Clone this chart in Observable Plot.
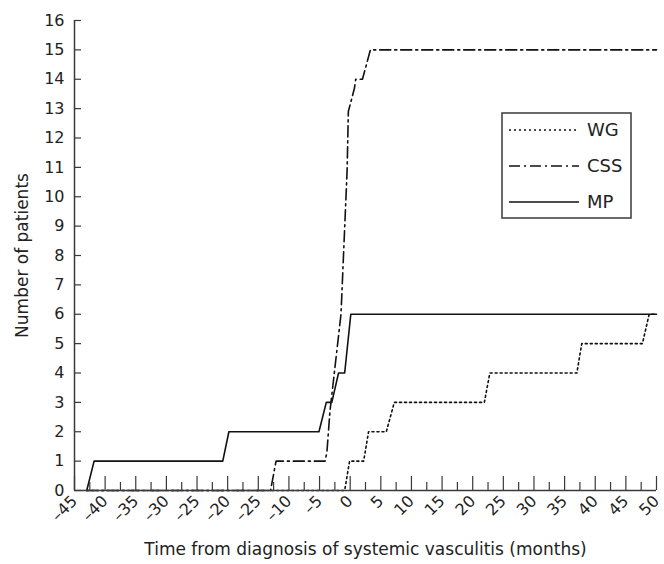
<!DOCTYPE html>
<html>
<head>
<meta charset="utf-8">
<script src="https://cdn.jsdelivr.net/npm/d3@7"></script>
<script src="https://cdn.jsdelivr.net/npm/@observablehq/plot@0.6"></script>
<style>
  html, body { margin: 0; padding: 0; background: #fff; }
  #chart { width: 664px; height: 564px; }
</style>
</head>
<body>
<div id="chart"></div>
<script>
// ---- data ----
const seriesNames = ["WG", "CSS", "MP"];
const wgX  = [-43, -0.9, -0.1, 2.2, 3.0, 5.9, 7.2, 21.9, 22.8, 37.0, 37.8, 47.7, 48.8, 50];
const wgY  = [0, 0, 1, 1, 2, 2, 3, 3, 4, 4, 5, 5, 6, 6];
const cssX = [-43, -13, -12.1, -4.1, -3.8, -3.3, -1.5, -0.5, -0.3, 0.7, 0.9, 2.0, 3.3, 50];
const cssY = [0, 0, 1, 1, 1.3, 2.7, 6, 10.9, 12.9, 13.7, 14, 14, 15, 15];
const mpX  = [-43, -41.8, -20.8, -19.8, -5.1, -3.9, -3.0, -1.9, -0.9, 0.1, 50];
const mpY  = [0, 1, 1, 2, 2, 3, 3, 4, 4, 6, 6];

const xTicks = [-45, -40, -35, -30, -25, -20, -15, -10, -5, 0, 5, 10, 15, 20, 25, 30, 35, 40, 45, 50];
const xTickLabels = ["–45", "–40", "–35", "–30", "–25", "–20", "–25", "–10", "–5", "0", "5", "10", "15", "20", "25", "30", "35", "40", "45", "50"];
const xMinorTicks = [-42.5, -37.5, -32.5, -27.5, -22.5, -17.5, -12.5, -7.5, -2.5, 2.5, 7.5, 12.5, 17.5, 22.5, 27.5, 32.5, 37.5, 42.5, 47.5];
const yTicks = [0, 1, 2, 3, 4, 5, 6, 7, 8, 9, 10, 11, 12, 13, 14, 15, 16];

const xTitle = "Time from diagnosis of systemic vasculitis (months)";
const yTitle = "Number of patients";

// ---- build table ----
const toRows = (xs, ys, name) => xs.map((x, i) => ({x, y: ys[i], series: name}));
const wg = toRows(wgX, wgY, "WG");
const css = toRows(cssX, cssY, "CSS");
const mp = toRows(mpX, mpY, "MP");

const dashes = {WG: "2,3", CSS: "11,4,2,4", MP: null};
const labelMap = new Map(xTicks.map((t, i) => [t, xTickLabels[i]]));
const FONT = "'DejaVu Sans', 'Noto Sans', sans-serif";
const AX = "#3a3a3a";
const TXT = "#222";

const chart = Plot.plot({
  width: 664,
  height: 564,
  marginLeft: 74,
  marginRight: 8,
  marginTop: 20,
  marginBottom: 74,
  style: {fontFamily: FONT, fontSize: "15px", color: TXT, background: "#fff"},
  x: {domain: [-45, 50]},
  y: {domain: [0, 16]},
  marks: [
    Plot.line(wg, {x: "x", y: "y", stroke: "#111", strokeWidth: 1.6, strokeDasharray: dashes.WG}),
    Plot.line(css, {x: "x", y: "y", stroke: "#111", strokeWidth: 1.6, strokeDasharray: dashes.CSS}),
    Plot.line(mp, {x: "x", y: "y", stroke: "#111", strokeWidth: 1.6}),
    // x axis ticks (inward)
    Plot.axisX(xTicks, {tickSize: -14, tickFormat: () => "", label: null, stroke: AX, strokeWidth: 1.2}),
    Plot.axisX(xMinorTicks, {tickSize: -8, tickFormat: () => "", label: null, stroke: AX, strokeWidth: 1.2}),
    Plot.axisX(xTicks, {tickSize: 0, tickPadding: 8, tickRotate: -45, tickFormat: d => labelMap.get(d), label: null, fontSize: 16, fill: TXT}),
    // y axis ticks (inward)
    Plot.axisY(yTicks, {tickSize: -7, tickFormat: () => "", label: null, stroke: AX, strokeWidth: 1.2}),
    Plot.axisY(yTicks, {tickSize: 0, tickPadding: 10, tickFormat: d => String(d), label: null, fontSize: 16, fill: TXT}),
    // axis lines
    Plot.ruleY([0], {stroke: AX, strokeWidth: 1.5}),
    Plot.ruleX([-45], {stroke: AX, strokeWidth: 1.5}),
    // titles
    Plot.text([xTitle], {frameAnchor: "bottom", textAnchor: "middle", dy: 64, fontSize: 17, fill: TXT}),
    Plot.text([yTitle], {frameAnchor: "left", textAnchor: "middle", dx: -52, rotate: -90, fontSize: 17, fill: TXT})
  ]
});

document.getElementById("chart").appendChild(chart);

// ---- legend inside the plot area ----
const svg = d3.select(chart.tagName.toLowerCase() === "svg" ? chart : chart.querySelector("svg"));
const lg = svg.append("g").attr("font-family", FONT).attr("font-size", 18).attr("text-anchor", "start");
lg.append("rect").attr("x", 502).attr("y", 113).attr("width", 129).attr("height", 105)
  .attr("fill", "#fff").attr("stroke", AX).attr("stroke-width", 1.5);
seriesNames.forEach((name, i) => {
  const yy = 130 + i * 36;
  lg.append("line").attr("x1", 509).attr("x2", 579).attr("y1", yy).attr("y2", yy)
    .attr("stroke", "#111").attr("stroke-width", 1.6)
    .attr("stroke-dasharray", dashes[name]);
  lg.append("text").attr("x", 587).attr("y", yy).attr("dy", "0.36em")
    .attr("fill", TXT).text(name);
});
</script>
</body>
</html>
